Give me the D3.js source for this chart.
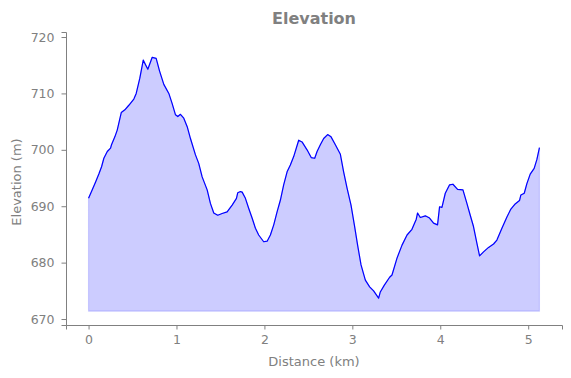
<!DOCTYPE html>
<html>
<head>
<meta charset="utf-8">
<style>
  body { margin: 0; background: #fff; }
  text { font-family: "DejaVu Sans", sans-serif; fill: #808080; }
</style>
</head>
<body>
<script src="https://cdn.jsdelivr.net/npm/d3@7/dist/d3.min.js"></script>
<script>
// distance (km) and elevation (m)
var distance = [0.00, 0.042, 0.080, 0.117, 0.148, 0.174, 0.213, 0.25, 0.261, 0.299, 0.326, 0.372, 0.413, 0.458, 0.515, 0.542, 0.583, 0.622, 0.674, 0.724, 0.769, 0.807, 0.856, 0.913, 0.951, 0.989, 1.015, 1.045, 1.083, 1.122, 1.159, 1.216, 1.253, 1.292, 1.349, 1.386, 1.424, 1.469, 1.519, 1.576, 1.633, 1.682, 1.697, 1.727, 1.747, 1.784, 1.822, 1.860, 1.898, 1.935, 1.992, 2.031, 2.068, 2.106, 2.144, 2.182, 2.219, 2.258, 2.295, 2.333, 2.390, 2.428, 2.485, 2.534, 2.572, 2.599, 2.636, 2.674, 2.719, 2.758, 2.807, 2.864, 2.901, 2.940, 2.985, 3.023, 3.060, 3.099, 3.148, 3.197, 3.242, 3.299, 3.318, 3.364, 3.424, 3.451, 3.508, 3.565, 3.622, 3.678, 3.727, 3.742, 3.773, 3.830, 3.878, 3.924, 3.969, 3.992, 4.019, 4.057, 4.106, 4.144, 4.197, 4.258, 4.303, 4.341, 4.378, 4.417, 4.447, 4.492, 4.549, 4.606, 4.644, 4.701, 4.758, 4.803, 4.852, 4.901, 4.917, 4.955, 4.985, 5.023, 5.068, 5.099, 5.128];
var elevation = [691.4, 692.9, 694.3, 695.7, 697.0, 698.5, 699.7, 700.3, 700.9, 702.3, 703.5, 706.6, 707.1, 707.9, 709.0, 710.0, 712.7, 715.9, 714.3, 716.4, 716.2, 714.0, 711.6, 710.0, 708.2, 706.2, 705.9, 706.3, 705.6, 704.1, 702.0, 699.1, 697.6, 695.2, 692.9, 690.5, 688.8, 688.4, 688.7, 689.0, 690.2, 691.4, 692.4, 692.6, 692.5, 691.4, 689.6, 687.9, 686.1, 684.9, 683.7, 683.8, 684.9, 686.7, 689.0, 691.1, 693.8, 696.1, 697.3, 698.8, 701.7, 701.4, 700.0, 698.6, 698.5, 699.7, 700.9, 702.0, 702.7, 702.3, 700.9, 699.2, 696.1, 693.2, 690.2, 686.7, 683.1, 679.6, 676.9, 675.7, 675.0, 673.7, 674.8, 676.0, 677.4, 677.8, 680.8, 683.1, 684.9, 685.9, 687.7, 688.8, 688.0, 688.3, 687.9, 687.0, 686.7, 689.9, 689.8, 692.3, 693.8, 693.9, 693.0, 692.9, 690.5, 688.4, 686.4, 683.4, 681.2, 681.9, 682.7, 683.3, 684.0, 686.1, 688.1, 689.5, 690.4, 691.0, 692.0, 692.3, 694.0, 695.7, 696.7, 698.3, 700.4];
var baseline = 671.4;
var xTicks = [0, 1, 2, 3, 4, 5];
var yTicks = [670, 680, 690, 700, 710, 720];

var width = 571, height = 378;
var mLeft = 66, mRight = 562, mTop = 32, mBottom = 325;
var grey = "#808080";

var svg = d3.select("body").append("svg")
    .attr("width", width)
    .attr("height", height);

var x = d3.scaleLinear().domain([-0.2565, 5.3845]).range([mLeft, mRight]);
var y = d3.scaleLinear().domain([668.94, 720.89]).range([mBottom, mTop]);

var data = distance.map(function (d, i) { return [d, elevation[i]]; });

svg.append("path")
    .datum(data)
    .attr("fill", "rgba(0,0,255,0.2)")
    .attr("stroke", "rgba(0,0,255,0.15)")
    .attr("stroke-width", 1.2)
    .attr("d", d3.area()
        .x(d => x(d[0]))
        .y0(y(baseline))
        .y1(d => y(d[1])));

svg.append("path")
    .datum(data)
    .attr("fill", "none")
    .attr("stroke", "#0000ff")
    .attr("stroke-width", 1.2)
    .attr("stroke-linejoin", "round")
    .attr("d", d3.line()
        .x(d => x(d[0]))
        .y(d => y(d[1])));

var gx = svg.append("g")
    .attr("transform", "translate(0," + mBottom + ")")
    .call(d3.axisBottom(x).tickValues(xTicks).tickFormat(d3.format("d")).tickSize(4.5).tickPadding(6));
var gy = svg.append("g")
    .attr("transform", "translate(" + mLeft + ",0)")
    .call(d3.axisLeft(y).tickValues(yTicks).tickFormat(d3.format("d")).tickSize(4.5).tickPadding(7));

[gx, gy].forEach(function (g) {
    g.select(".domain").attr("stroke", grey).attr("stroke-width", 1);
    g.selectAll(".tick line").attr("stroke", grey);
    g.selectAll(".tick text").style("font-size", "12.5px").style("fill", grey)
        .style("font-family", "DejaVu Sans, sans-serif");
});

var cx = (mLeft + mRight) / 2;

svg.append("text")
    .attr("x", cx)
    .attr("y", 24)
    .attr("text-anchor", "middle")
    .style("font-size", "16px")
    .style("font-weight", "bold")
    .text("Elevation");

svg.append("text")
    .attr("x", cx)
    .attr("y", 366)
    .attr("text-anchor", "middle")
    .style("font-size", "13px")
    .text("Distance (km)");

svg.append("text")
    .attr("transform", "translate(21,182) rotate(-90)")
    .attr("text-anchor", "middle")
    .style("font-size", "13px")
    .text("Elevation (m)");
</script>
</body>
</html>
